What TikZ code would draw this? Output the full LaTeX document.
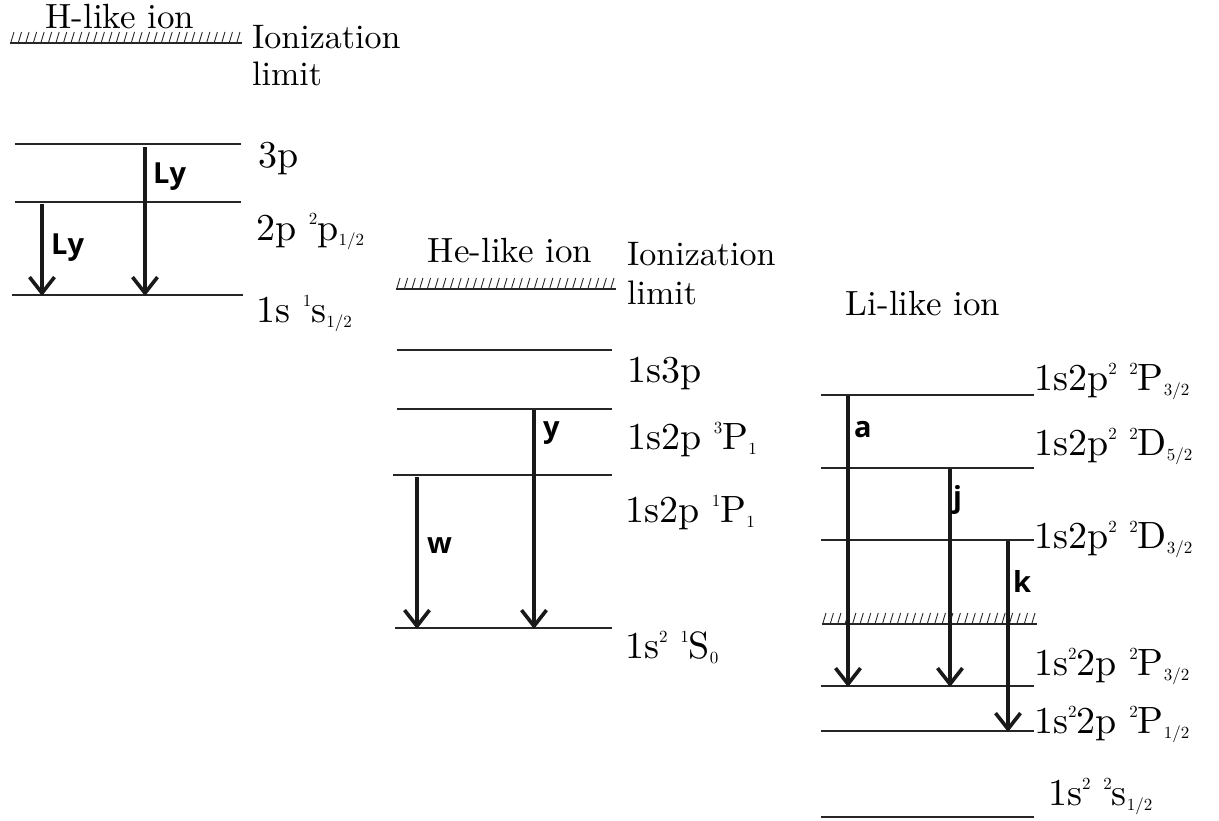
\documentclass[tikz,border=0pt]{standalone}
\usepackage{fontspec}
\setmainfont{lmroman10-regular}[Extension=.otf]
\newfontfamily\lblfont{Open Sans}
\usetikzlibrary{arrows.meta}
\newcommand\supx[1]{\raisebox{0.40em}{\fontsize{17}{17}\selectfont #1}}
\newcommand\subx[1]{\raisebox{-0.15em}{\fontsize{17}{17}\selectfont #1}}
\newcommand\hatchline[4]{%
  \draw[lev] (#1,#3) -- (#2,#3);
  \foreach \i in {0,...,#4} \draw[hatch] ({#1+1+\i*(#2-#1-6)/#4},#3-1) -- ++(3,-10);
}
\tikzset{
  lev/.style={line width=1.3pt, black!85},
  hatch/.style={line width=0.9pt, black!85},
  trans/.style={line width=3.6pt, black!90, -{Straight Barb[length=16pt,width=25pt]}},
  word/.style={font=\fontsize{34}{40}\selectfont, inner sep=0pt, anchor=base west},
  title/.style={font=\fontsize{35}{40}\selectfont, inner sep=0pt, anchor=base},
  lvl/.style={font=\fontsize{38}{40}\selectfont, inner sep=0pt, anchor=base west},
  tlab/.style={font=\lblfont\bfseries\fontsize{29}{32}\selectfont, inner sep=0pt, anchor=base west},
}
\begin{document}
\begin{tikzpicture}[x=1pt,y=-1pt]
\useasboundingbox (0,0) rectangle (1219,820);

% ---------- H-like ion ----------
\node[title] (Htitle) at (120,28) {H-like ion};
\hatchline{10}{242}{43}{30}
\node[word] (Hion1) at (252,48) {Ionization};
\node[word] (Hion2) at (252,85) {limit};
\draw[lev] (15,144) -- (241,144);
\draw[lev] (15,202) -- (241,202);
\draw[lev] (12,295) -- (243,295);
\node[lvl] (H3p) at (258,167) {3p};
\node[lvl] (H2p) at (256,240) {2p \supx{2}p\subx{1/2}};
\node[lvl] (H1s) at (256,322) {1s \supx{1}s\subx{1/2}};
\coordinate (HA1) at (42,204); \coordinate (HA2) at (42,296);
\coordinate (HB1) at (145,147); \coordinate (HB2) at (145,296);
\draw[trans] (HA1) -- (HA2);
\draw[trans] (HB1) -- (HB2);
\node[tlab] (LyA) at (51,254) {Ly};
\node[tlab] (LyB) at (153,183) {Ly};

% ---------- He-like ion ----------
\node[title] (Hetitle) at (510,262) {He-like ion};
\hatchline{396}{616}{289}{28}
\node[word] (Heion1) at (627,265) {Ionization};
\node[word] (Heion2) at (627,304) {limit};
\draw[lev] (397,350) -- (612,350);
\draw[lev] (397,409) -- (612,409);
\draw[lev] (393,475) -- (612,475);
\draw[lev] (395,628) -- (612,628);
\node[lvl] (He3p) at (627,382) {1s3p};
\node[lvl] (He3P) at (627,449) {1s2p \supx{3}P\subx{1}};
\node[lvl] (He1P) at (625,522) {1s2p \supx{1}P\subx{1}};
\node[lvl] (He1S) at (625,658) {1s\supx{2} \supx{1}S\subx{0}};
\coordinate (Hey1) at (534,410); \coordinate (Hey2) at (534,629);
\coordinate (Hew1) at (417,477); \coordinate (Hew2) at (417,629);
\draw[trans] (Hey1) -- (Hey2);
\draw[trans] (Hew1) -- (Hew2);
\node[tlab] (ylab) at (543,437) {y};
\node[tlab] (wlab) at (427,553) {w};

% ---------- Li-like ion ----------
\node[title] (Lititle) at (923,315) {Li-like ion};
\draw[lev] (821,395) -- (1034,395);
\draw[lev] (821,468) -- (1034,468);
\draw[lev] (821,540) -- (1034,540);
\hatchline{822}{1037}{624}{28}
\draw[lev] (821,686) -- (1034,686);
\draw[lev] (821,731) -- (1034,731);
\draw[lev] (821,817) -- (1034,817);
\node[lvl] (LiP32) at (1034,390) {1s2p\supx{2} \supx{2}P\subx{3/2}};
\node[lvl] (LiD52) at (1034,455) {1s2p\supx{2} \supx{2}D\subx{5/2}};
\node[lvl] (LiD32) at (1034,548) {1s2p\supx{2} \supx{2}D\subx{3/2}};
\node[lvl] (LigP32) at (1034,675) {1s\supx{2}2p \supx{2}P\subx{3/2}};
\node[lvl] (LigP12) at (1034,733) {1s\supx{2}2p \supx{2}P\subx{1/2}};
\node[lvl] (Ligs) at (1048,805) {1s\supx{2} \supx{2}s\subx{1/2}};
\coordinate (La1) at (848,396); \coordinate (La2) at (848,687);
\coordinate (Lj1) at (950,469); \coordinate (Lj2) at (950,687);
\coordinate (Lk1) at (1008,541); \coordinate (Lk2) at (1008,732);
\draw[trans] (La1) -- (La2);
\draw[trans] (Lj1) -- (Lj2);
\draw[trans] (Lk1) -- (Lk2);
\node[tlab] (alab) at (854,437) {a};
\node[tlab] (jlab) at (953,507) {j};
\node[tlab] (klab) at (1013,592) {k};
\end{tikzpicture}
\end{document}
